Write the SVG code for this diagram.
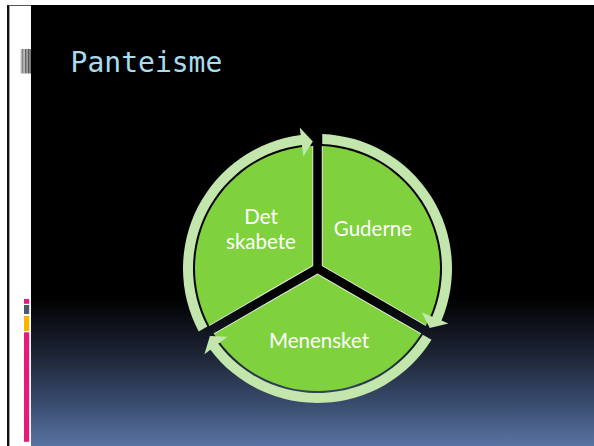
<svg xmlns="http://www.w3.org/2000/svg" width="594" height="446" viewBox="0 0 594 446">
  <defs>
    <linearGradient id="bg" gradientUnits="userSpaceOnUse" x1="0" y1="5" x2="0" y2="446">
      <stop offset="0" stop-color="#000000"/>
      <stop offset="0.662" stop-color="#000000"/>
      <stop offset="0.782" stop-color="#1a2130"/>
      <stop offset="0.896" stop-color="#37496a"/>
      <stop offset="1" stop-color="#5873a3"/>
    </linearGradient>
    <path id="wedge" d="M322.25,265.76 L322.25,146.09 A122.5,122.5 0 0 1 425.88,325.60 Z"/>
    <path id="wedgeEdge" d="M322.25,146.09 L322.25,265.76 L425.88,325.60"/>
    <path id="arrow" d="M322.24,134.08 A134.5,134.5 0 0 1 441.49,320.62 L448.40,323.53 L429.74,327.93 L421.67,312.29 L432.27,316.75 A124.5,124.5 0 0 0 322.26,144.09 Z"/>
  </defs>
  <style>
    .wedge { fill: #7fd13d; }
    .edge { fill: none; stroke: #ffffff; stroke-width: 1; stroke-opacity: 0.85; }
    .ring { fill: #c2e6ab; }
    .label { font-family: Lato, "Open Sans", sans-serif; font-size: 20.5px; fill: #ffffff; text-anchor: middle; }
    .title { font-family: "DejaVu Sans Mono", "Liberation Mono", monospace; font-size: 28px; fill: #a8dcee; }
  </style>

  <!-- slide background -->
  <rect x="0" y="0" width="594" height="446" fill="#ffffff"/>
  <rect x="7" y="5" width="24" height="1" fill="#555555"/>
  <rect x="7" y="5" width="2" height="441" fill="#111111"/>
  <rect x="9" y="5" width="0.8" height="441" fill="#888888"/>
  <rect x="31" y="5" width="563" height="441" fill="url(#bg)"/>

  <!-- barcode mark -->
  <g id="mark">
    <rect x="20.8" y="49" width="0.8" height="24.5" fill="#888888"/>
    <rect x="22.4" y="49" width="1" height="24.5" fill="#333333"/>
    <rect x="24" y="49" width="0.7" height="24.5" fill="#999999"/>
    <rect x="25.3" y="49" width="1.2" height="24.5" fill="#222222"/>
    <rect x="27" y="49" width="0.7" height="24.5" fill="#777777"/>
    <rect x="28.3" y="49" width="1.2" height="24.5" fill="#111111"/>
    <rect x="30" y="49" width="0.8" height="24.5" fill="#555555"/>
  </g>

  <!-- colour bars -->
  <g id="bars">
    <rect x="24" y="299" width="5.2" height="4.8" fill="#e8197d"/>
    <rect x="24" y="305" width="5.2" height="9" fill="#4a5a6e"/>
    <rect x="24" y="316" width="5.2" height="15" fill="#fbb400"/>
    <rect x="24" y="332.3" width="5.2" height="109.5" fill="#e8197d"/>
  </g>

  <text id="title" class="title" x="70.6" y="72.3">Panteisme</text>

  <!-- wedges -->
  <g id="node-guderne">
    <use href="#wedge" class="wedge"/>
    <use href="#wedgeEdge" class="edge"/>
    <text class="label" x="373" y="236">Guderne</text>
  </g>
  <g id="node-menensket">
    <use href="#wedge" class="wedge" transform="rotate(120 317.5 268.5)"/>
    <use href="#wedgeEdge" class="edge" transform="rotate(120 317.5 268.5)"/>
    <text class="label" x="319" y="348">Menensket</text>
  </g>
  <g id="node-det-skabete">
    <use href="#wedge" class="wedge" transform="rotate(240 317.5 268.5)"/>
    <use href="#wedgeEdge" class="edge" transform="rotate(240 317.5 268.5)"/>
    <text class="label" x="261" y="223.5"><tspan x="261" y="223.5">Det</tspan><tspan x="261" y="248.5">skabete</tspan></text>
  </g>

  <!-- circular arrows -->
  <g id="connectors">
    <use href="#arrow" class="ring"/>
    <use href="#arrow" class="ring" transform="rotate(120 317.5 268.5)"/>
    <use href="#arrow" class="ring" transform="rotate(240 317.5 268.5)"/>
  </g>
</svg>
